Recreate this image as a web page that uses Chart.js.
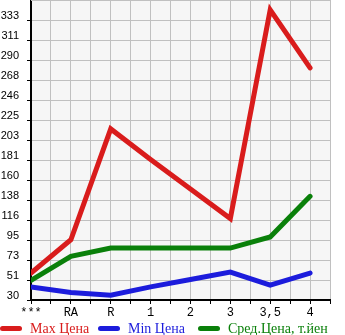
<!DOCTYPE html>
<html><head><meta charset="utf-8">
<script src="https://cdn.jsdelivr.net/npm/chart.js@4/dist/chart.umd.min.js"></script>
<style>
html,body{margin:0;padding:0;background:#fff;}
#wrap{position:relative;width:345px;height:335px;}
#legend{position:absolute;left:0;top:321px;width:345px;height:15px;font-family:"Liberation Serif",serif;font-size:14px;line-height:15px;white-space:nowrap;}
.item{position:absolute;top:0;height:15px;display:flex;align-items:center;}
.swatch{width:22px;height:5px;border-radius:3px;margin-right:8px;}
</style></head><body>
<div id="wrap"><canvas id="c" width="345" height="335"></canvas><div id="legend"></div></div>
<script>
const categories = ['***', 'RA', 'R', '1', '2', '3', '3,5', '4'];
const maxPrice = [59, 95, 215, 182, 150, 118, 344, 281];
const minPrice = [44, 38, 35, 44, 52, 60, 46, 59];
const avgPrice = [51, 77, 86, 86, 86, 86, 98, 142];
const seriesNames = ['Max Цена', 'Min Цена', 'Сред.Цена, т.йен'];
const seriesColors = ['#d91c1c', '#1c1cdc', '#0a800a'];
const yTickLabels = [30, 51, 73, 95, 116, 138, 160, 181, 203, 225, 246, 268, 290, 311, 333];
const yMin = 29.8, yStep = 21.65, yMax = yMin + 15 * yStep;

const toPoints = arr => arr.map((v, i) => ({x: i, y: v}));
const seriesData = [maxPrice, minPrice, avgPrice];

const bgPlugin = {
  id: 'bg',
  beforeDraw(chart) {
    const a = chart.chartArea, ctx = chart.ctx;
    ctx.save(); ctx.fillStyle = '#f6f6f6';
    ctx.fillRect(a.left, a.top, a.right - a.left, a.bottom - a.top);
    ctx.restore();
  },
  beforeDatasetsDraw(chart) {
    const a = chart.chartArea, ctx = chart.ctx;
    ctx.save(); ctx.strokeStyle = '#c0c0c0'; ctx.lineWidth = 1;
    ctx.beginPath(); ctx.moveTo(a.left, a.top + 0.5); ctx.lineTo(a.right, a.top + 0.5); ctx.stroke();
    ctx.restore();
  }
};

new Chart(document.getElementById('c'), {
  type: 'line',
  data: {
    datasets: seriesData.map((d, i) => ({
      label: seriesNames[i], data: toPoints(d), borderColor: seriesColors[i], backgroundColor: seriesColors[i],
      borderWidth: 5, pointRadius: 0, tension: 0, fill: false, borderCapStyle: 'round'
    }))
  },
  options: {
    responsive: false, animation: false, devicePixelRatio: 1,
    layout: {padding: {left: 0, right: 15, top: 0, bottom: 15}},
    plugins: {legend: {display: false}, tooltip: {enabled: false}},
    scales: {
      x: {
        type: 'linear', min: 0, max: 7.5,
        afterBuildTicks(s) { s.ticks = Array.from({length: 16}, (_, i) => ({value: i / 2})); },
        afterFit(s) { s.height = 20; s.paddingLeft = 0; s.paddingRight = 0; },
        ticks: {autoSkip: false, maxRotation: 0, padding: 2, color: '#000',
          font: {family: 'Liberation Mono', size: 12},
          callback: v => Number.isInteger(v) ? categories[v] : ''},
        grid: {color: '#c0c0c0', tickColor: '#000', tickLength: 4, lineWidth: 1},
        border: {color: '#000', width: 2}
      },
      y: {
        type: 'linear', min: yMin, max: yMax,
        afterBuildTicks(s) { s.ticks = yTickLabels.map((_, i) => ({value: yMin + i * yStep})); },
        afterFit(s) { s.width = 31; s.paddingTop = 0; s.paddingBottom = 0; },
        ticks: {autoSkip: false, padding: 8, labelOffset: -4, color: '#000',
          font: {family: 'Liberation Sans', size: 11},
          callback: (v, i) => String(yTickLabels[i] ?? '')},
        grid: {color: '#c0c0c0', tickColor: '#000', tickLength: 4, lineWidth: 1},
        border: {color: '#000', width: 2}
      }
    }
  },
  plugins: [bgPlugin]
});

const legend = document.getElementById('legend');
const legendLeft = [0, 98, 198];
seriesNames.forEach((n, i) => {
  const it = document.createElement('div'); it.className = 'item'; it.style.left = legendLeft[i] + 'px';
  const sw = document.createElement('div'); sw.className = 'swatch'; sw.style.background = seriesColors[i];
  const tx = document.createElement('span'); tx.textContent = n; tx.style.color = seriesColors[i];
  it.appendChild(sw); it.appendChild(tx); legend.appendChild(it);
});
</script>
</body></html>
